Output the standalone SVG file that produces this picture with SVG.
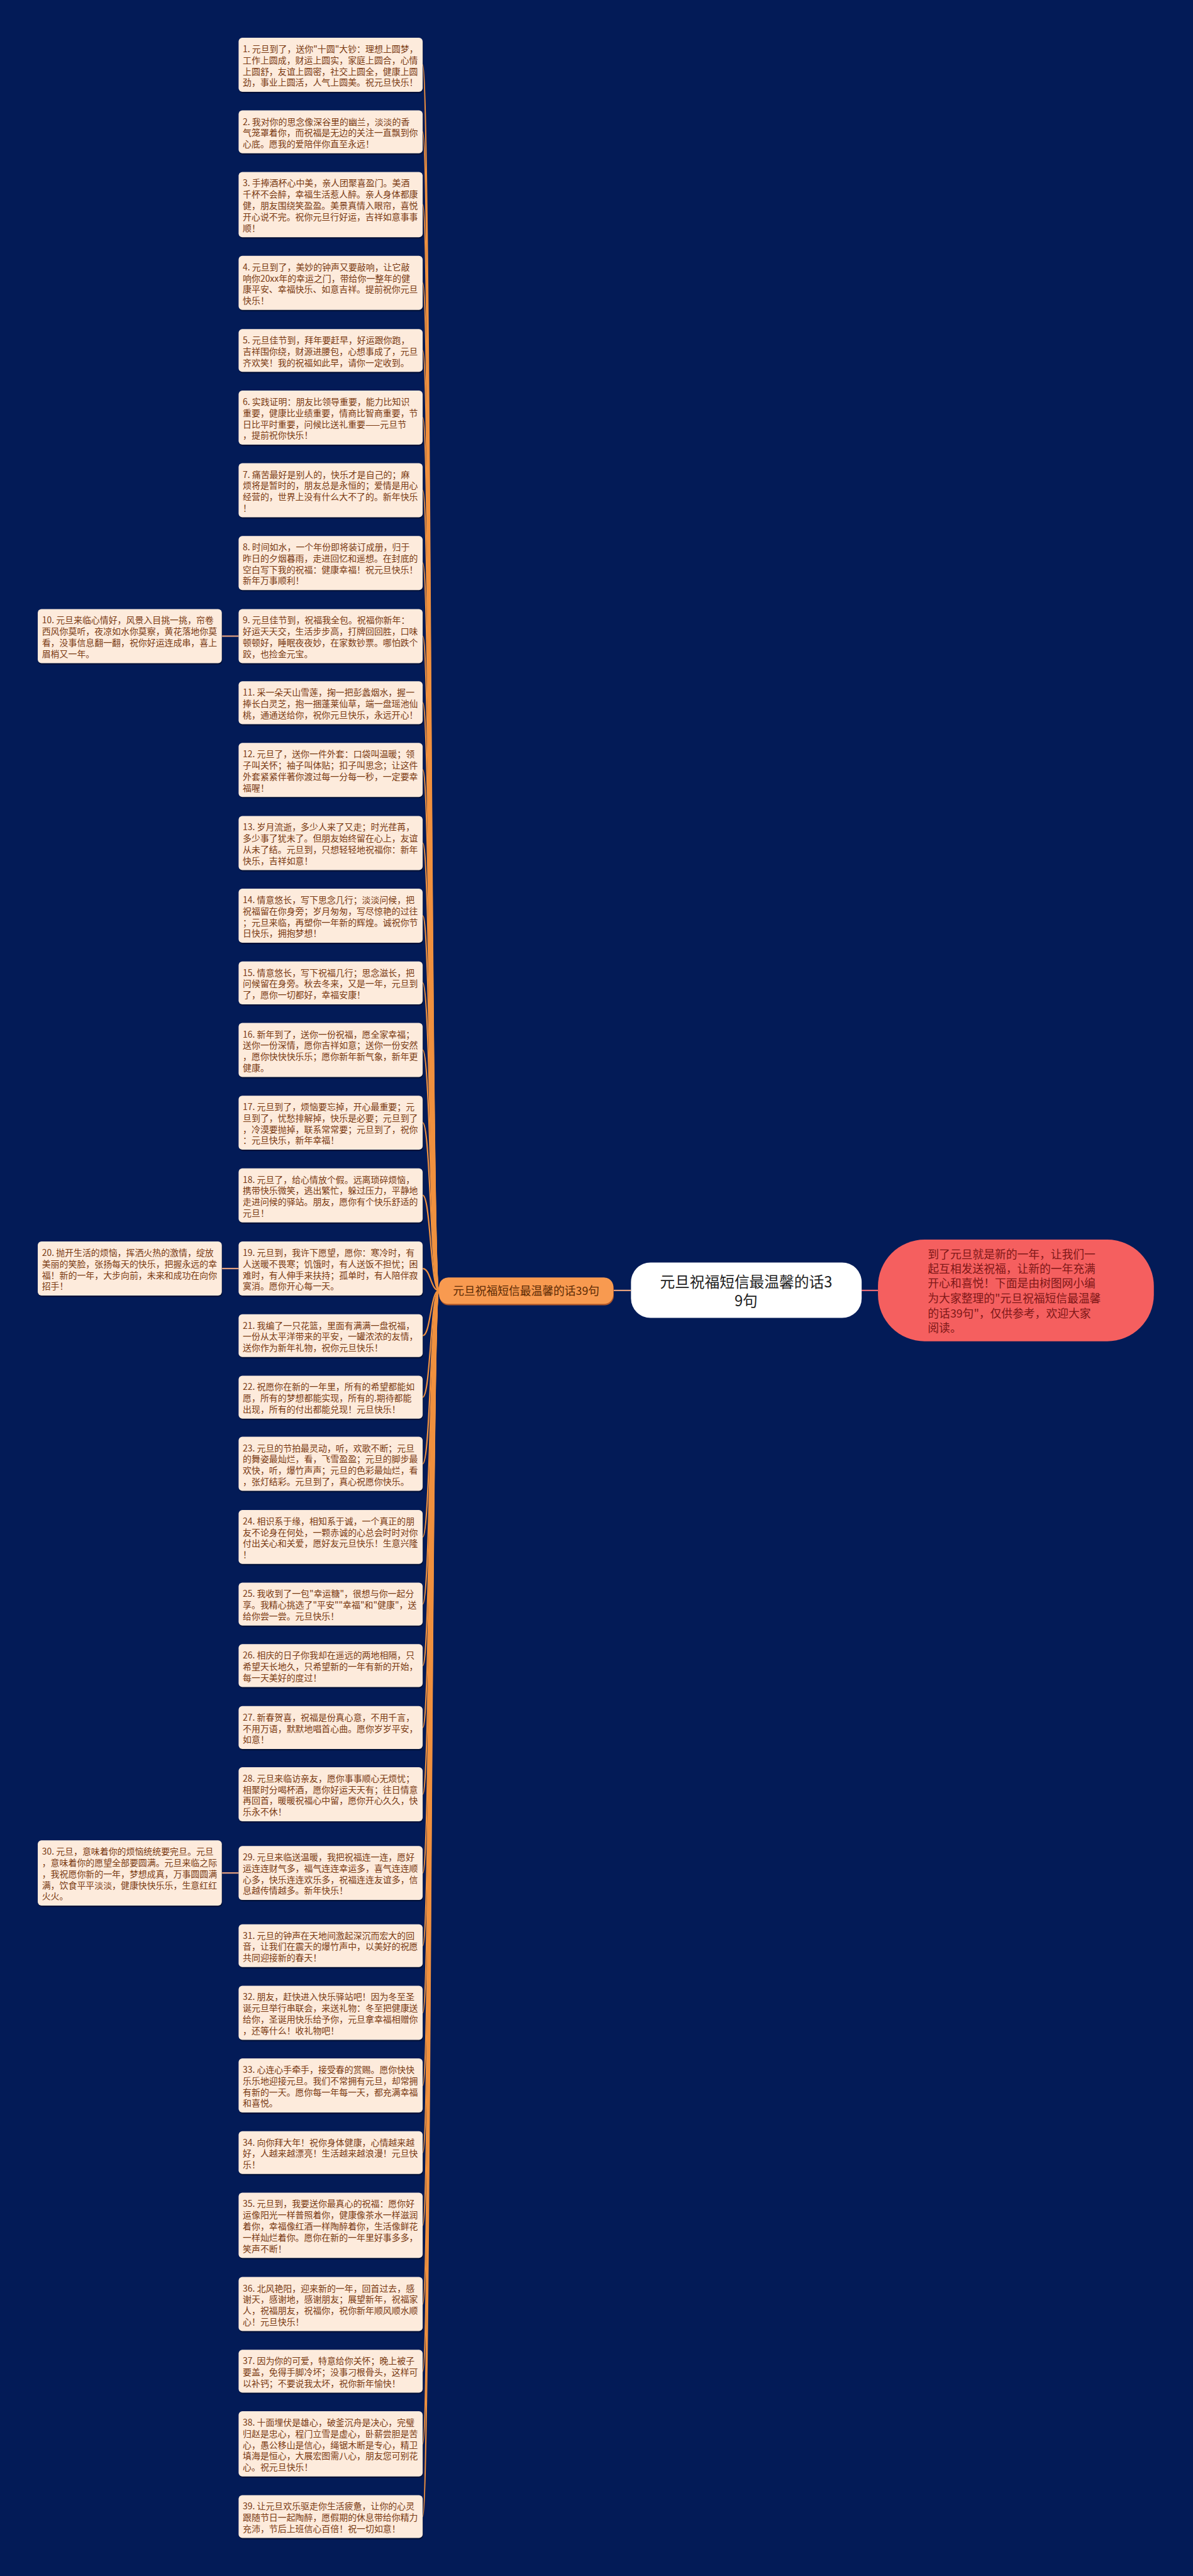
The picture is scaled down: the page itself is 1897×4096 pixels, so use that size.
<svg xmlns="http://www.w3.org/2000/svg" width="1897" height="4096" viewBox="0 0 1897 4096">
<style>
.bg{fill:#031b57}
.lf{fill:#fdebdc}
.sh{fill:#000;opacity:.35}
.lt{font-family:"Noto Sans CJK SC","Liberation Sans",sans-serif;font-size:18.8px;fill:#7a3a12}
.cv{fill:none;stroke:#f0913f;stroke-width:3}
.ln{fill:none;stroke:#e3a07f;stroke-width:3}
.rt{font-family:"Noto Sans CJK SC","Liberation Sans",sans-serif;font-size:32px;fill:#1e1e1e;text-anchor:middle}
.ot{font-family:"Noto Sans CJK SC","Liberation Sans",sans-serif;font-size:24px;fill:#5b2a05;text-anchor:middle}
.dt{font-family:"Noto Sans CJK SC","Liberation Sans",sans-serif;font-size:24px;fill:#7e1717}
</style>
<rect class="bg" x="0" y="0" width="1897" height="4096"/>
<g transform="scale(0.741016)">
<g id="connectors">
<path class="ln" d="M1316 2769 L1354 2769"/>
<path d="M1849 2769 L1884 2769" fill="none" stroke="#e56a76" stroke-width="3"/>
<path class="cv" d="M942 2769 C924 2769 924 139 907 139"/>
<path class="cv" d="M942 2769 C924 2769 924 283 907 283"/>
<path class="cv" d="M942 2769 C924 2769 924 439 907 439"/>
<path class="cv" d="M942 2769 C924 2769 924 607 907 607"/>
<path class="cv" d="M942 2769 C924 2769 924 752 907 752"/>
<path class="cv" d="M942 2769 C924 2769 924 896 907 896"/>
<path class="cv" d="M942 2769 C924 2769 924 1052 907 1052"/>
<path class="cv" d="M942 2769 C924 2769 924 1208 907 1208"/>
<path class="cv" d="M942 2769 C924 2769 924 1365 907 1365"/>
<path class="cv" d="M942 2769 C924 2769 924 1508 907 1508"/>
<path class="cv" d="M942 2769 C924 2769 924 1652 907 1652"/>
<path class="cv" d="M942 2769 C924 2769 924 1809 907 1809"/>
<path class="cv" d="M942 2769 C924 2769 924 1965 907 1965"/>
<path class="cv" d="M942 2769 C924 2769 924 2109 907 2109"/>
<path class="cv" d="M942 2769 C924 2769 924 2253 907 2253"/>
<path class="cv" d="M942 2769 C924 2769 924 2409 907 2409"/>
<path class="cv" d="M942 2769 C924 2769 924 2565 907 2565"/>
<path class="cv" d="M942 2769 C924 2769 924 2722 907 2722"/>
<path class="cv" d="M942 2769 C924 2769 924 2866 907 2866"/>
<path class="cv" d="M942 2769 C924 2769 924 2998 907 2998"/>
<path class="cv" d="M942 2769 C924 2769 924 3141 907 3141"/>
<path class="cv" d="M942 2769 C924 2769 924 3298 907 3298"/>
<path class="cv" d="M942 2769 C924 2769 924 3442 907 3442"/>
<path class="cv" d="M942 2769 C924 2769 924 3574 907 3574"/>
<path class="cv" d="M942 2769 C924 2769 924 3707 907 3707"/>
<path class="cv" d="M942 2769 C924 2769 924 3850 907 3850"/>
<path class="cv" d="M942 2769 C924 2769 924 4019 907 4019"/>
<path class="cv" d="M942 2769 C924 2769 924 4175 907 4175"/>
<path class="cv" d="M942 2769 C924 2769 924 4319 907 4319"/>
<path class="cv" d="M942 2769 C924 2769 924 4475 907 4475"/>
<path class="cv" d="M942 2769 C924 2769 924 4619 907 4619"/>
<path class="cv" d="M942 2769 C924 2769 924 4775 907 4775"/>
<path class="cv" d="M942 2769 C924 2769 924 4944 907 4944"/>
<path class="cv" d="M942 2769 C924 2769 924 5088 907 5088"/>
<path class="cv" d="M942 2769 C924 2769 924 5244 907 5244"/>
<path class="cv" d="M942 2769 C924 2769 924 5400 907 5400"/>
<path class="ln" d="M512 1365 L476 1365"/>
<path class="ln" d="M512 2722 L476 2722"/>
<path class="ln" d="M512 4019 L476 4019"/>
</g>

<g id="root">
<rect x="1354" y="2709" width="495" height="119" rx="42" fill="#fff"/>
<text class="rt"><tspan x="1601" y="2762">元旦祝福短信最温馨的话3</tspan><tspan x="1601" y="2803">9句</tspan></text>
</g>
<g id="branch">
<rect x="943" y="2744" width="374" height="57" rx="20" fill="#b0582a"/>
<rect x="942" y="2741" width="374" height="57" rx="20" fill="#f89a50"/>
<text class="ot" x="1129" y="2778">元旦祝福短信最温馨的话39句</text>
</g>
<g id="summary">
<rect x="1884" y="2660" width="592" height="218" rx="100" fill="#f55f5f"/>
<text class="dt"><tspan x="1991" y="2700">到了元旦就是新的一年，让我们一</tspan><tspan x="1991" y="2732">起互相发送祝福，让新的一年充满</tspan><tspan x="1991" y="2763">开心和喜悦！下面是由树图网小编</tspan><tspan x="1991" y="2795">为大家整理的"元旦祝福短信最温馨</tspan><tspan x="1991" y="2827">的话39句"，仅供参考，欢迎大家</tspan><tspan x="1991" y="2858">阅读。</tspan></text>
</g>

<g id="n1"><rect class="sh" x="513" y="84" width="395" height="116" rx="8"/><rect class="lf" x="512" y="81" width="395" height="116" rx="8"/><text class="lt"><tspan x="521" y="112">1. 元旦到了，送你"十圆"大钞：理想上圆梦，</tspan><tspan x="521" y="136">工作上圆成，财运上圆实，家庭上圆合，心情</tspan><tspan x="521" y="160">上圆舒，友谊上圆密，社交上圆全，健康上圆</tspan><tspan x="521" y="184">劲，事业上圆活，人气上圆美。祝元旦快乐！</tspan></text></g>
<g id="n2"><rect class="sh" x="513" y="240" width="395" height="92" rx="8"/><rect class="lf" x="512" y="237" width="395" height="92" rx="8"/><text class="lt"><tspan x="521" y="268">2. 我对你的思念像深谷里的幽兰，淡淡的香</tspan><tspan x="521" y="292">气笼罩着你，而祝福是无边的关注一直飘到你</tspan><tspan x="521" y="316">心底。愿我的爱陪伴你直至永远！</tspan></text></g>
<g id="n3"><rect class="sh" x="513" y="372" width="395" height="140" rx="8"/><rect class="lf" x="512" y="369" width="395" height="140" rx="8"/><text class="lt"><tspan x="521" y="400">3. 手捧酒杯心中美，亲人团聚喜盈门。美酒</tspan><tspan x="521" y="424">千杯不会醉，幸福生活惹人醉。亲人身体都康</tspan><tspan x="521" y="448">健，朋友围绕笑盈盈。美景真情入眼帘，喜悦</tspan><tspan x="521" y="472">开心说不完。祝你元旦行好运，吉祥如意事事</tspan><tspan x="521" y="496">顺！</tspan></text></g>
<g id="n4"><rect class="sh" x="513" y="552" width="395" height="116" rx="8"/><rect class="lf" x="512" y="549" width="395" height="116" rx="8"/><text class="lt"><tspan x="521" y="580">4. 元旦到了，美妙的钟声又要敲响，让它敲</tspan><tspan x="521" y="604">响你20xx年的幸运之门，带给你一整年的健</tspan><tspan x="521" y="628">康平安、幸福快乐、如意吉祥。提前祝你元旦</tspan><tspan x="521" y="652">快乐！</tspan></text></g>
<g id="n5"><rect class="sh" x="513" y="709" width="395" height="92" rx="8"/><rect class="lf" x="512" y="706" width="395" height="92" rx="8"/><text class="lt"><tspan x="521" y="737">5. 元旦佳节到，拜年要赶早，好运跟你跑，</tspan><tspan x="521" y="761">吉祥围你绕，财源进腰包，心想事成了，元旦</tspan><tspan x="521" y="785">齐欢笑！我的祝福如此早，请你一定收到。</tspan></text></g>
<g id="n6"><rect class="sh" x="513" y="841" width="395" height="116" rx="8"/><rect class="lf" x="512" y="838" width="395" height="116" rx="8"/><text class="lt"><tspan x="521" y="869">6. 实践证明：朋友比领导重要，能力比知识</tspan><tspan x="521" y="893">重要，健康比业绩重要，情商比智商重要，节</tspan><tspan x="521" y="917">日比平时重要，问候比送礼重要——元旦节</tspan><tspan x="521" y="941">，提前祝你快乐！</tspan></text></g>
<g id="n7"><rect class="sh" x="513" y="997" width="395" height="116" rx="8"/><rect class="lf" x="512" y="994" width="395" height="116" rx="8"/><text class="lt"><tspan x="521" y="1025">7. 痛苦最好是别人的，快乐才是自己的；麻</tspan><tspan x="521" y="1049">烦将是暂时的，朋友总是永恒的；爱情是用心</tspan><tspan x="521" y="1073">经营的，世界上没有什么大不了的。新年快乐</tspan><tspan x="521" y="1097">！</tspan></text></g>
<g id="n8"><rect class="sh" x="513" y="1153" width="395" height="116" rx="8"/><rect class="lf" x="512" y="1150" width="395" height="116" rx="8"/><text class="lt"><tspan x="521" y="1181">8. 时间如水，一个年份即将装订成册，归于</tspan><tspan x="521" y="1205">昨日的夕烟暮雨，走进回忆和遥想。在封底的</tspan><tspan x="521" y="1229">空白写下我的祝福：健康幸福！祝元旦快乐！</tspan><tspan x="521" y="1253">新年万事顺利！</tspan></text></g>
<g id="n9"><rect class="sh" x="513" y="1310" width="395" height="116" rx="8"/><rect class="lf" x="512" y="1307" width="395" height="116" rx="8"/><text class="lt"><tspan x="521" y="1338">9. 元旦佳节到，祝福我全包。祝福你新年：</tspan><tspan x="521" y="1362">好运天天交，生活步步高，打牌回回胜，口味</tspan><tspan x="521" y="1386">顿顿好，睡眠夜夜妙，在家数钞票。哪怕跌个</tspan><tspan x="521" y="1410">跤，也捡金元宝。</tspan></text></g>
<g id="n10"><rect class="sh" x="82" y="1310" width="395" height="116" rx="8"/><rect class="lf" x="81" y="1307" width="395" height="116" rx="8"/><text class="lt"><tspan x="90" y="1338">10. 元旦来临心情好，风景入目挑一挑，帘卷</tspan><tspan x="90" y="1362">西风你莫听，夜凉如水你莫察，黄花落地你莫</tspan><tspan x="90" y="1386">看，没事信息翻一翻，祝你好运连成串，喜上</tspan><tspan x="90" y="1410">眉梢又一年。</tspan></text></g>
<g id="n11"><rect class="sh" x="513" y="1465" width="395" height="92" rx="8"/><rect class="lf" x="512" y="1462" width="395" height="92" rx="8"/><text class="lt"><tspan x="521" y="1493">11. 采一朵天山雪莲，掬一把彭蠡烟水，握一</tspan><tspan x="521" y="1517">捧长白灵芝，抱一捆蓬莱仙草，端一盘瑶池仙</tspan><tspan x="521" y="1541">桃，通通送给你，祝你元旦快乐，永远开心！</tspan></text></g>
<g id="n12"><rect class="sh" x="513" y="1597" width="395" height="116" rx="8"/><rect class="lf" x="512" y="1594" width="395" height="116" rx="8"/><text class="lt"><tspan x="521" y="1625">12. 元旦了，送你一件外套：口袋叫温暖；领</tspan><tspan x="521" y="1649">子叫关怀；袖子叫体贴；扣子叫思念；让这件</tspan><tspan x="521" y="1673">外套紧紧伴著你渡过每一分每一秒，一定要幸</tspan><tspan x="521" y="1697">福喔！</tspan></text></g>
<g id="n13"><rect class="sh" x="513" y="1754" width="395" height="116" rx="8"/><rect class="lf" x="512" y="1751" width="395" height="116" rx="8"/><text class="lt"><tspan x="521" y="1782">13. 岁月流逝，多少人来了又走；时光荏苒，</tspan><tspan x="521" y="1806">多少事了犹未了。但朋友始终留在心上，友谊</tspan><tspan x="521" y="1830">从未了结。元旦到，只想轻轻地祝福你：新年</tspan><tspan x="521" y="1854">快乐，吉祥如意！</tspan></text></g>
<g id="n14"><rect class="sh" x="513" y="1910" width="395" height="116" rx="8"/><rect class="lf" x="512" y="1907" width="395" height="116" rx="8"/><text class="lt"><tspan x="521" y="1938">14. 情意悠长，写下思念几行；淡淡问候，把</tspan><tspan x="521" y="1962">祝福留在你身旁；岁月匆匆，写尽惊艳的过往</tspan><tspan x="521" y="1986">；元旦来临，再塑你一年新的辉煌。诚祝你节</tspan><tspan x="521" y="2010">日快乐，拥抱梦想！</tspan></text></g>
<g id="n15"><rect class="sh" x="513" y="2066" width="395" height="92" rx="8"/><rect class="lf" x="512" y="2063" width="395" height="92" rx="8"/><text class="lt"><tspan x="521" y="2094">15. 情意悠长，写下祝福几行；思念滋长，把</tspan><tspan x="521" y="2118">问候留在身旁。秋去冬来，又是一年，元旦到</tspan><tspan x="521" y="2142">了，愿你一切都好，幸福安康！</tspan></text></g>
<g id="n16"><rect class="sh" x="513" y="2198" width="395" height="116" rx="8"/><rect class="lf" x="512" y="2195" width="395" height="116" rx="8"/><text class="lt"><tspan x="521" y="2226">16. 新年到了，送你一份祝福，愿全家幸福；</tspan><tspan x="521" y="2250">送你一份深情，愿你吉祥如意；送你一份安然</tspan><tspan x="521" y="2274">，愿你快快快乐乐；愿你新年新气象，新年更</tspan><tspan x="521" y="2298">健康。</tspan></text></g>
<g id="n17"><rect class="sh" x="513" y="2354" width="395" height="116" rx="8"/><rect class="lf" x="512" y="2351" width="395" height="116" rx="8"/><text class="lt"><tspan x="521" y="2382">17. 元旦到了，烦恼要忘掉，开心最重要；元</tspan><tspan x="521" y="2406">旦到了，忧愁排解掉，快乐是必要；元旦到了</tspan><tspan x="521" y="2430">，冷漠要抛掉，联系常常要；元旦到了，祝你</tspan><tspan x="521" y="2454">：元旦快乐，新年幸福！</tspan></text></g>
<g id="n18"><rect class="sh" x="513" y="2510" width="395" height="116" rx="8"/><rect class="lf" x="512" y="2507" width="395" height="116" rx="8"/><text class="lt"><tspan x="521" y="2538">18. 元旦了，给心情放个假。远离琐碎烦恼，</tspan><tspan x="521" y="2562">携带快乐微笑，逃出繁忙，躲过压力，平静地</tspan><tspan x="521" y="2586">走进问候的驿站。朋友，愿你有个快乐舒适的</tspan><tspan x="521" y="2610">元旦！</tspan></text></g>
<g id="n19"><rect class="sh" x="513" y="2667" width="395" height="116" rx="8"/><rect class="lf" x="512" y="2664" width="395" height="116" rx="8"/><text class="lt"><tspan x="521" y="2695">19. 元旦到，我许下愿望，愿你：寒冷时，有</tspan><tspan x="521" y="2719">人送暖不畏寒；饥饿时，有人送饭不担忧；困</tspan><tspan x="521" y="2743">难时，有人伸手来扶持；孤单时，有人陪伴寂</tspan><tspan x="521" y="2767">寞消。愿你开心每一天。</tspan></text></g>
<g id="n20"><rect class="sh" x="82" y="2667" width="395" height="116" rx="8"/><rect class="lf" x="81" y="2664" width="395" height="116" rx="8"/><text class="lt"><tspan x="90" y="2695">20. 抛开生活的烦恼，挥洒火热的激情，绽放</tspan><tspan x="90" y="2719">美丽的笑脸，张扬每天的快乐，把握永远的幸</tspan><tspan x="90" y="2743">福！新的一年，大步向前，未来和成功在向你</tspan><tspan x="90" y="2767">招手！</tspan></text></g>
<g id="n21"><rect class="sh" x="513" y="2823" width="395" height="92" rx="8"/><rect class="lf" x="512" y="2820" width="395" height="92" rx="8"/><text class="lt"><tspan x="521" y="2851">21. 我编了一只花篮，里面有满满一盘祝福，</tspan><tspan x="521" y="2875">一份从太平洋带来的平安，一罐浓浓的友情，</tspan><tspan x="521" y="2899">送你作为新年礼物，祝你元旦快乐！</tspan></text></g>
<g id="n22"><rect class="sh" x="513" y="2955" width="395" height="92" rx="8"/><rect class="lf" x="512" y="2952" width="395" height="92" rx="8"/><text class="lt"><tspan x="521" y="2983">22. 祝愿你在新的一年里，所有的希望都能如</tspan><tspan x="521" y="3007">愿，所有的梦想都能实现，所有的.期待都能</tspan><tspan x="521" y="3031">出现，所有的付出都能兑现！元旦快乐！</tspan></text></g>
<g id="n23"><rect class="sh" x="513" y="3086" width="395" height="116" rx="8"/><rect class="lf" x="512" y="3083" width="395" height="116" rx="8"/><text class="lt"><tspan x="521" y="3114">23. 元旦的节拍最灵动，听，欢歌不断；元旦</tspan><tspan x="521" y="3138">的舞姿最灿烂，看，飞雪盈盈；元旦的脚步最</tspan><tspan x="521" y="3162">欢快，听，爆竹声声；元旦的色彩最灿烂，看</tspan><tspan x="521" y="3186">，张灯结彩。元旦到了，真心祝愿你快乐。</tspan></text></g>
<g id="n24"><rect class="sh" x="513" y="3243" width="395" height="116" rx="8"/><rect class="lf" x="512" y="3240" width="395" height="116" rx="8"/><text class="lt"><tspan x="521" y="3271">24. 相识系于缘，相知系于诚，一个真正的朋</tspan><tspan x="521" y="3295">友不论身在何处，一颗赤诚的心总会时时对你</tspan><tspan x="521" y="3319">付出关心和关爱，愿好友元旦快乐！生意兴隆</tspan><tspan x="521" y="3343">！</tspan></text></g>
<g id="n25"><rect class="sh" x="513" y="3399" width="395" height="92" rx="8"/><rect class="lf" x="512" y="3396" width="395" height="92" rx="8"/><text class="lt"><tspan x="521" y="3427">25. 我收到了一包"幸运糖"，很想与你一起分</tspan><tspan x="521" y="3451">享。我精心挑选了"平安""幸福"和"健康"，送</tspan><tspan x="521" y="3475">给你尝一尝。元旦快乐！</tspan></text></g>
<g id="n26"><rect class="sh" x="513" y="3531" width="395" height="92" rx="8"/><rect class="lf" x="512" y="3528" width="395" height="92" rx="8"/><text class="lt"><tspan x="521" y="3559">26. 相庆的日子你我却在遥远的两地相隔，只</tspan><tspan x="521" y="3583">希望天长地久，只希望新的一年有新的开始，</tspan><tspan x="521" y="3607">每一天美好的度过！</tspan></text></g>
<g id="n27"><rect class="sh" x="513" y="3664" width="395" height="92" rx="8"/><rect class="lf" x="512" y="3661" width="395" height="92" rx="8"/><text class="lt"><tspan x="521" y="3692">27. 新春贺喜，祝福是份真心意，不用千言，</tspan><tspan x="521" y="3716">不用万语，默默地唱首心曲。愿你岁岁平安，</tspan><tspan x="521" y="3740">如意！</tspan></text></g>
<g id="n28"><rect class="sh" x="513" y="3795" width="395" height="116" rx="8"/><rect class="lf" x="512" y="3792" width="395" height="116" rx="8"/><text class="lt"><tspan x="521" y="3823">28. 元旦来临访亲友，愿你事事顺心无烦忧；</tspan><tspan x="521" y="3847">相聚时分喝杯酒，愿你好运天天有；往日情意</tspan><tspan x="521" y="3871">再回首，暖暖祝福心中留，愿你开心久久，快</tspan><tspan x="521" y="3895">乐永不休！</tspan></text></g>
<g id="n29"><rect class="sh" x="513" y="3964" width="395" height="116" rx="8"/><rect class="lf" x="512" y="3961" width="395" height="116" rx="8"/><text class="lt"><tspan x="521" y="3992">29. 元旦来临送温暖，我把祝福连一连，愿好</tspan><tspan x="521" y="4016">运连连财气多，福气连连幸运多，喜气连连顺</tspan><tspan x="521" y="4040">心多，快乐连连欢乐多，祝福连连友谊多，信</tspan><tspan x="521" y="4064">息越传情越多。新年快乐！</tspan></text></g>
<g id="n30"><rect class="sh" x="82" y="3952" width="395" height="140" rx="8"/><rect class="lf" x="81" y="3949" width="395" height="140" rx="8"/><text class="lt"><tspan x="90" y="3980">30. 元旦，意味着你的烦恼统统要完旦。元旦</tspan><tspan x="90" y="4004">，意味着你的愿望全部要圆满。元旦来临之际</tspan><tspan x="90" y="4028">，我祝愿你新的一年，梦想成真，万事圆圆满</tspan><tspan x="90" y="4052">满，饮食平平淡淡，健康快快乐乐，生意红红</tspan><tspan x="90" y="4076">火火。</tspan></text></g>
<g id="n31"><rect class="sh" x="513" y="4132" width="395" height="92" rx="8"/><rect class="lf" x="512" y="4129" width="395" height="92" rx="8"/><text class="lt"><tspan x="521" y="4160">31. 元旦的钟声在天地间激起深沉而宏大的回</tspan><tspan x="521" y="4184">音，让我们在震天的爆竹声中，以美好的祝愿</tspan><tspan x="521" y="4208">共同迎接新的春天！</tspan></text></g>
<g id="n32"><rect class="sh" x="513" y="4264" width="395" height="116" rx="8"/><rect class="lf" x="512" y="4261" width="395" height="116" rx="8"/><text class="lt"><tspan x="521" y="4292">32. 朋友，赶快进入快乐驿站吧！因为冬至圣</tspan><tspan x="521" y="4316">诞元旦举行串联会，来送礼物：冬至把健康送</tspan><tspan x="521" y="4340">给你，圣诞用快乐给予你，元旦拿幸福相赠你</tspan><tspan x="521" y="4364">，还等什么！收礼物吧！</tspan></text></g>
<g id="n33"><rect class="sh" x="513" y="4420" width="395" height="116" rx="8"/><rect class="lf" x="512" y="4417" width="395" height="116" rx="8"/><text class="lt"><tspan x="521" y="4448">33. 心连心手牵手，接受春的赏赐。愿你快快</tspan><tspan x="521" y="4472">乐乐地迎接元旦。我们不常拥有元旦，却常拥</tspan><tspan x="521" y="4496">有新的一天。愿你每一年每一天，都充满幸福</tspan><tspan x="521" y="4520">和喜悦。</tspan></text></g>
<g id="n34"><rect class="sh" x="513" y="4576" width="395" height="92" rx="8"/><rect class="lf" x="512" y="4573" width="395" height="92" rx="8"/><text class="lt"><tspan x="521" y="4604">34. 向你拜大年！祝你身体健康，心情越来越</tspan><tspan x="521" y="4628">好，人越来越漂亮！生活越来越浪漫！元旦快</tspan><tspan x="521" y="4652">乐！</tspan></text></g>
<g id="n35"><rect class="sh" x="513" y="4708" width="395" height="140" rx="8"/><rect class="lf" x="512" y="4705" width="395" height="140" rx="8"/><text class="lt"><tspan x="521" y="4736">35. 元旦到，我要送你最真心的祝福：愿你好</tspan><tspan x="521" y="4760">运像阳光一样普照着你，健康像茶水一样滋润</tspan><tspan x="521" y="4784">着你，幸福像红酒一样陶醉着你，生活像鲜花</tspan><tspan x="521" y="4808">一样灿烂着你。愿你在新的一年里好事多多，</tspan><tspan x="521" y="4832">笑声不断！</tspan></text></g>
<g id="n36"><rect class="sh" x="513" y="4889" width="395" height="116" rx="8"/><rect class="lf" x="512" y="4886" width="395" height="116" rx="8"/><text class="lt"><tspan x="521" y="4917">36. 北风艳阳，迎来新的一年，回首过去，感</tspan><tspan x="521" y="4941">谢天，感谢地，感谢朋友；展望新年，祝福家</tspan><tspan x="521" y="4965">人，祝福朋友，祝福你，祝你新年顺风顺水顺</tspan><tspan x="521" y="4989">心！元旦快乐！</tspan></text></g>
<g id="n37"><rect class="sh" x="513" y="5045" width="395" height="92" rx="8"/><rect class="lf" x="512" y="5042" width="395" height="92" rx="8"/><text class="lt"><tspan x="521" y="5073">37. 因为你的可爱，特意给你关怀；晚上被子</tspan><tspan x="521" y="5097">要盖，免得手脚冷坏；没事刁根骨头，这样可</tspan><tspan x="521" y="5121">以补钙；不要说我太坏，祝你新年愉快！</tspan></text></g>
<g id="n38"><rect class="sh" x="513" y="5177" width="395" height="140" rx="8"/><rect class="lf" x="512" y="5174" width="395" height="140" rx="8"/><text class="lt"><tspan x="521" y="5205">38. 十面埋伏是雄心，破釜沉舟是决心，完璧</tspan><tspan x="521" y="5229">归赵是忠心，程门立雪是虚心，卧薪尝胆是苦</tspan><tspan x="521" y="5253">心，愚公移山是信心，绳锯木断是专心，精卫</tspan><tspan x="521" y="5277">填海是恒心，大展宏图需八心，朋友您可别花</tspan><tspan x="521" y="5301">心。祝元旦快乐！</tspan></text></g>
<g id="n39"><rect class="sh" x="513" y="5357" width="395" height="92" rx="8"/><rect class="lf" x="512" y="5354" width="395" height="92" rx="8"/><text class="lt"><tspan x="521" y="5385">39. 让元旦欢乐驱走你生活疲惫，让你的心灵</tspan><tspan x="521" y="5409">跟随节日一起陶醉，愿假期的休息带给你精力</tspan><tspan x="521" y="5433">充沛，节后上班信心百倍！祝一切如意！</tspan></text></g>
</g>
</svg>
